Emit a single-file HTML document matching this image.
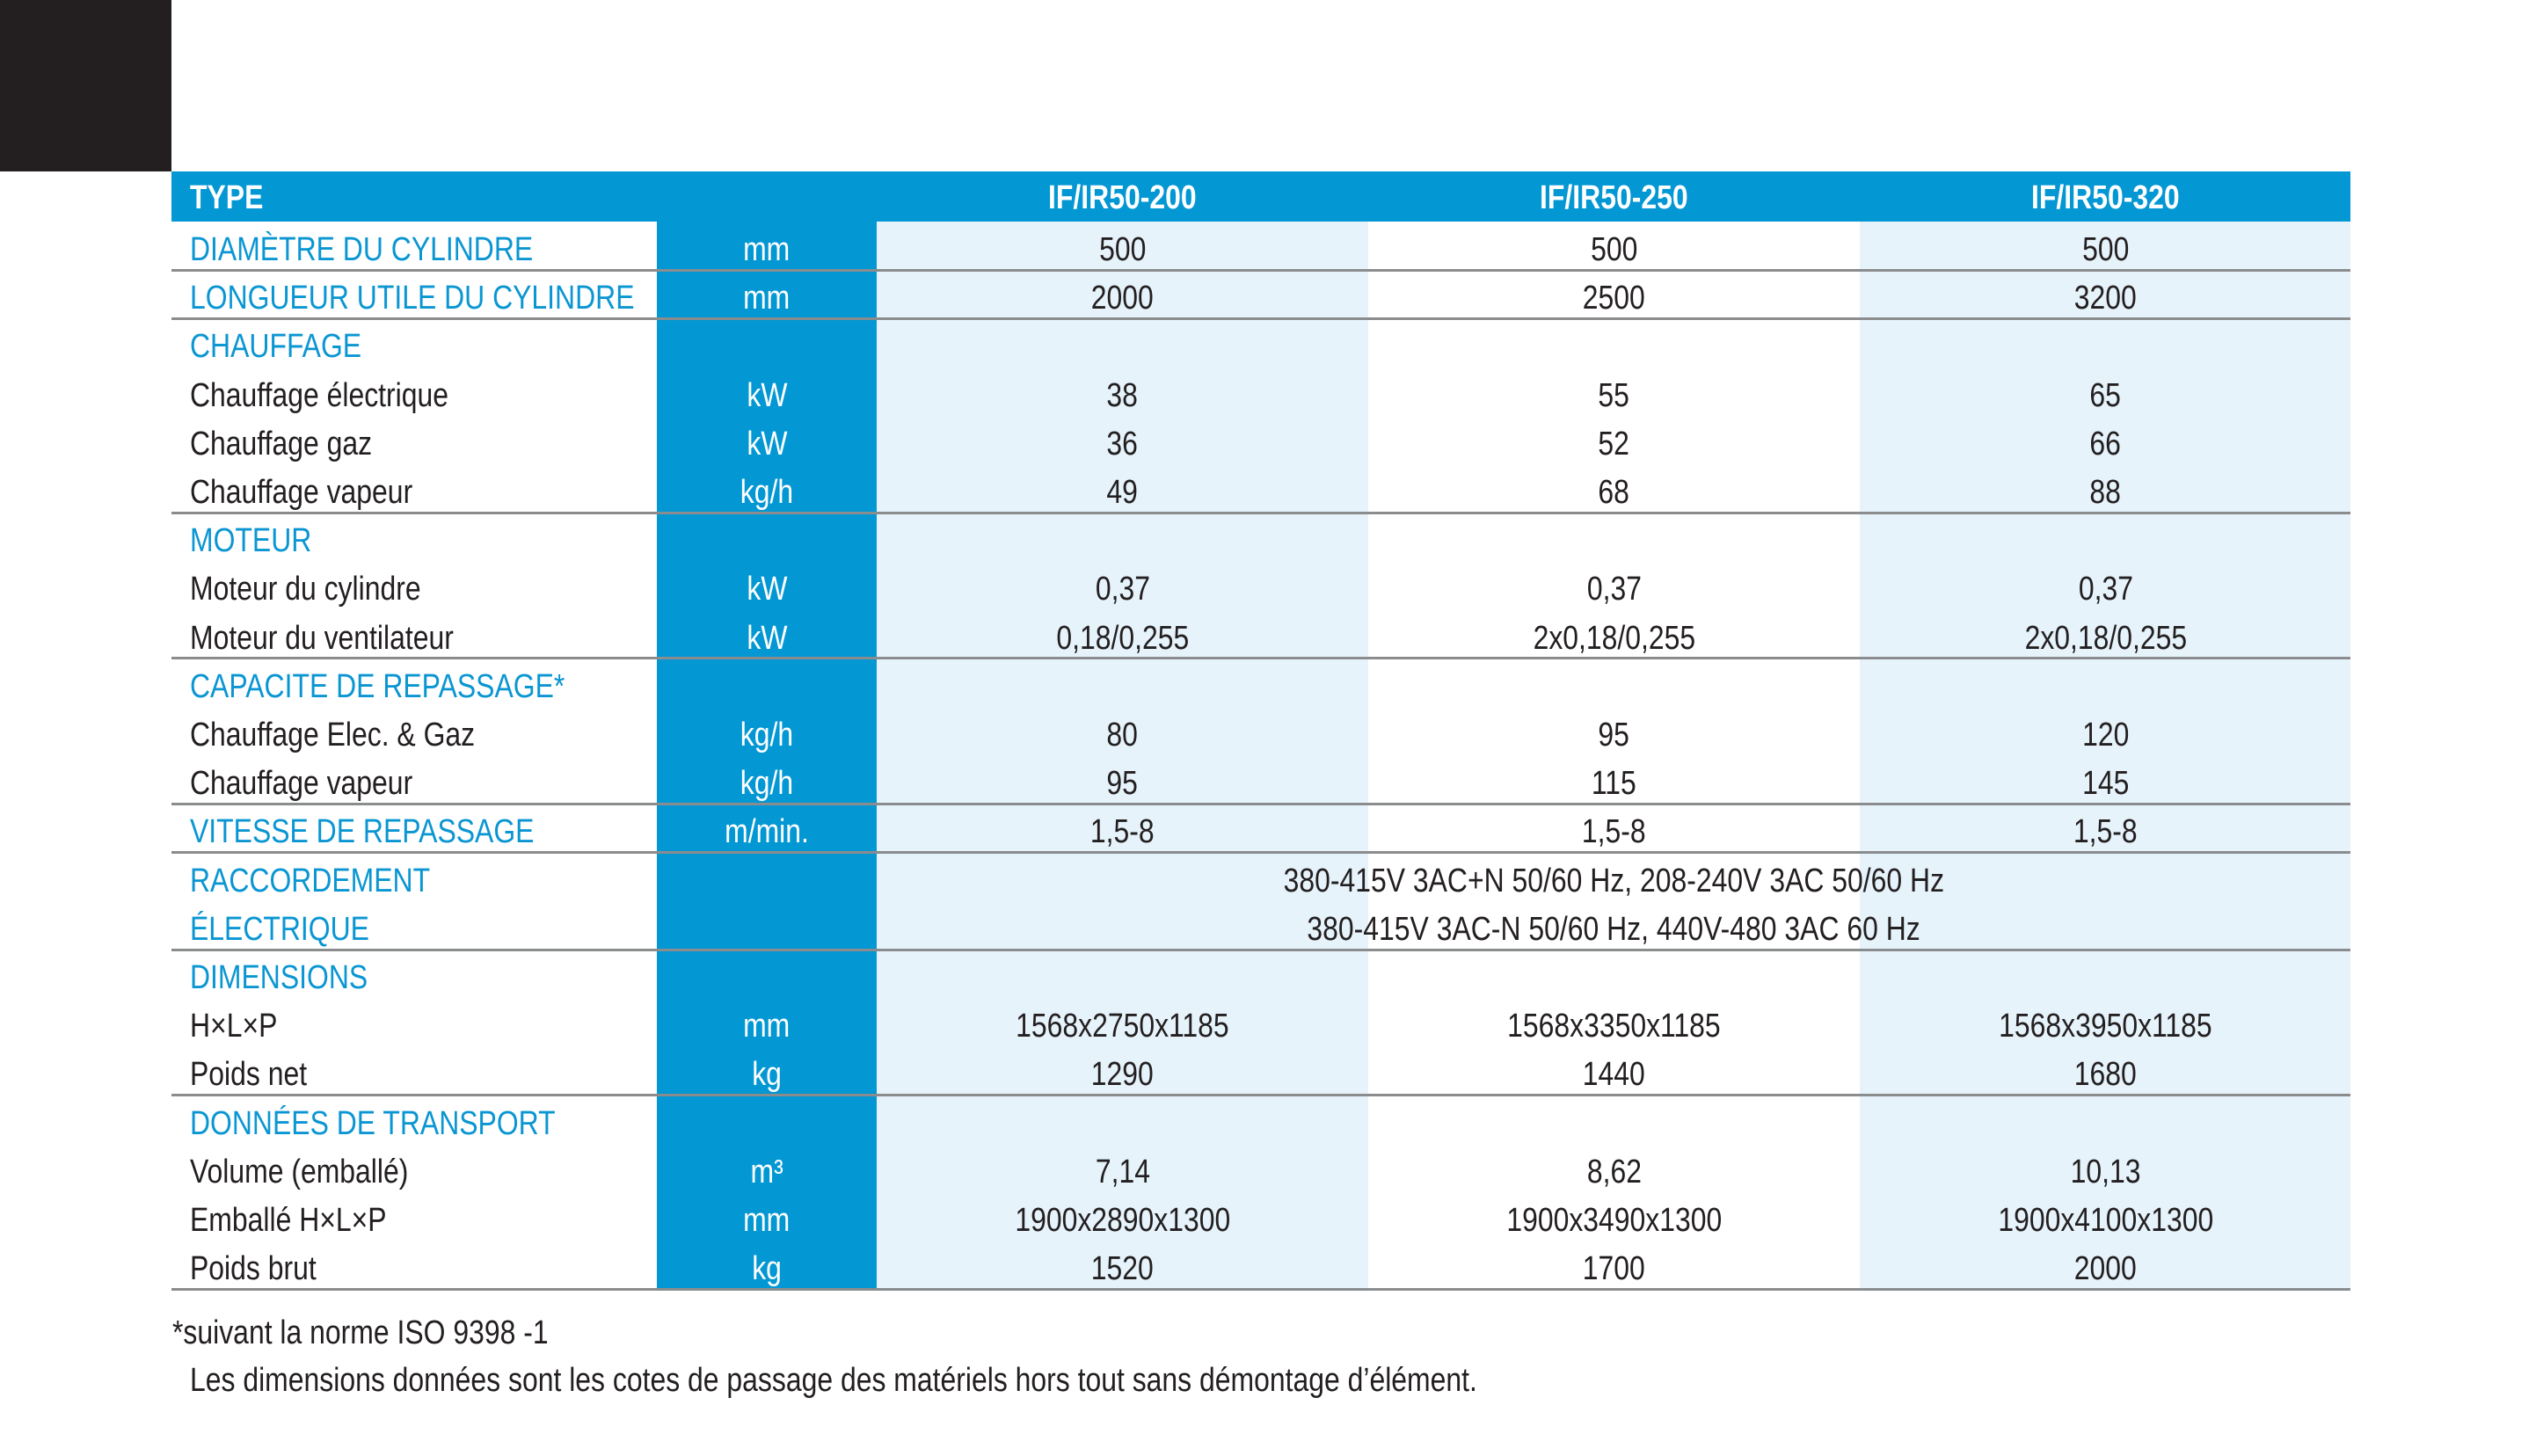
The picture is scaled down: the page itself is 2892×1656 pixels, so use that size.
<!DOCTYPE html>
<html><head><meta charset="utf-8">
<style>
body{margin:0;width:2892px;height:1656px;background:#fff;position:relative;overflow:hidden;font-family:"Liberation Sans Narrow","Liberation Sans",sans-serif;}
.abs{position:absolute;}
.t{position:absolute;height:55px;line-height:55px;padding-top:5px;font-size:38px;white-space:nowrap;color:#231f20;}
.t span{display:inline-block;transform:scaleX(0.84);}
.l span{transform-origin:left center;}
.c{text-align:center;}
.c span{transform-origin:center center;}
.blue{color:#0a96d2;}
.w{color:#fff;}
.line{position:absolute;left:195px;width:2478px;height:3px;background:#8a8c8e;}
</style></head><body>
<div class="abs" style="left:0;top:0;width:195px;height:195px;background:#231f20"></div>
<div class="abs" style="left:195px;top:195px;width:2478px;height:57px;background:#0397d3"></div>
<div class="abs" style="left:747px;top:252px;width:250px;height:1214px;background:#0397d3"></div>
<div class="abs" style="left:997px;top:252px;width:559px;height:1214px;background:#e6f3fb"></div>
<div class="abs" style="left:2115px;top:252px;width:558px;height:1214px;background:#e6f3fb"></div>
<div id="tbl"></div>
<div class="t l" style="left:196px;top:1484px"><span>*suivant la norme ISO 9398 -1</span></div>
<div class="t l" style="left:216px;top:1538px"><span>Les dimensions données sont les cotes de passage des matériels hors tout sans démontage d’élément.</span></div>
<script>
const labels=["DIAMÈTRE DU CYLINDRE","LONGUEUR UTILE DU CYLINDRE","CHAUFFAGE","Chauffage électrique","Chauffage gaz","Chauffage vapeur","MOTEUR","Moteur du cylindre","Moteur du ventilateur","CAPACITE DE REPASSAGE*","Chauffage Elec. & Gaz","Chauffage vapeur","VITESSE DE REPASSAGE","RACCORDEMENT","ÉLECTRIQUE","DIMENSIONS","H×L×P","Poids net","DONNÉES DE TRANSPORT","Volume (emballé)","Emballé H×L×P","Poids brut"];
const sectionRows=[0,1,2,6,9,12,13,14,15,18];
const units=["mm","mm","","kW","kW","kg/h","","kW","kW","","kg/h","kg/h","m/min.","","","","mm","kg","","m³","mm","kg"];
const col1=["500","2000","","38","36","49","","0,37","0,18/0,255","","80","95","1,5-8","","","","1568x2750x1185","1290","","7,14","1900x2890x1300","1520"];
const col2=["500","2500","","55","52","68","","0,37","2x0,18/0,255","","95","115","1,5-8","","","","1568x3350x1185","1440","","8,62","1900x3490x1300","1700"];
const col3=["500","3200","","65","66","88","","0,37","2x0,18/0,255","","120","145","1,5-8","","","","1568x3950x1185","1680","","10,13","1900x4100x1300","2000"];
const merged={13:"380-415V 3AC+N 50/60 Hz, 208-240V 3AC 50/60 Hz",14:"380-415V 3AC-N 50/60 Hz, 440V-480 3AC 60 Hz"};
const linesAfter=[0,1,5,8,11,12,14,17,21];
const models=["IF/IR50-200","IF/IR50-250","IF/IR50-320"];
const tbl=document.getElementById('tbl');
const top0=252,rh=55.2,colX=[997,1556,2115],colW=559;
function cell(txt,x,w,y,cls,name){
  const d=document.createElement('div');
  d.className='t '+cls;
  d.style.left=x+'px';d.style.top=y+'px';if(w)d.style.width=w+'px';
  const s=document.createElement('span');s.textContent=txt;d.appendChild(s);
  
  
  tbl.appendChild(d);return d;
}
let h=cell("TYPE",216,0,193,'l w','header-type');h.style.fontWeight='bold';
models.forEach((m,i)=>{let d=cell(m,colX[i],colW,193,'c w','header-model');d.style.fontWeight='bold';});
labels.forEach((lab,i)=>{
  const y=top0+i*rh;
  cell(lab,216,0,y,'l '+(sectionRows.includes(i)?'blue':''),'row-label');
  if(units[i])cell(units[i],747,250,y,'c w','unit-cell');
  if(merged[i]){cell(merged[i],997,1676,y,'c','merged-value');}
  else{
    [col1,col2,col3].forEach((col,k)=>{if(col[i])cell(col[i],colX[k],colW,y,'c','value-cell');});
  }
});
linesAfter.forEach(i=>{
  const d=document.createElement('div');
  d.className='line';
  d.style.top=(top0+(i+1)*rh-1.5)+'px';
  
  
  tbl.appendChild(d);
});
</script>
</body></html>
